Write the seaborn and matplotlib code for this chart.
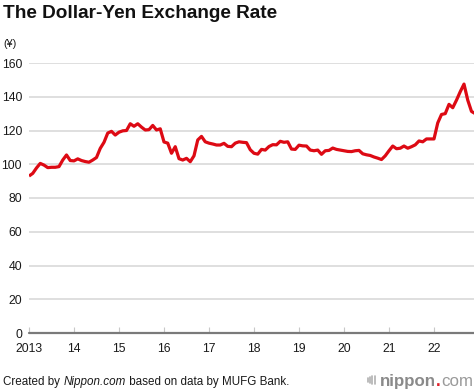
import matplotlib
matplotlib.use("Agg")
import matplotlib.pyplot as plt
import seaborn as sns
import pandas as pd
import numpy as np
from matplotlib.lines import Line2D

# ---- data (monthly, Jan 2013 - Dec 2022), yen per dollar ----
start_year = 2013
values = [
    93.0, 94.6, 97.8, 100.5, 99.5, 98.0, 98.2, 98.2, 98.6, 102.5, 105.5, 102.2,      # 2013
    102.0, 103.2, 102.2, 101.6, 101.2, 102.5, 104.0, 109.4, 113.0, 118.5, 119.5, 117.3,  # 2014
    119.0, 119.8, 120.0, 124.0, 122.5, 124.0, 122.0, 120.3, 120.5, 123.0, 120.3, 121.0,  # 2015
    113.2, 112.5, 106.5, 110.4, 103.3, 102.5, 103.5, 101.5, 105.0, 114.4, 116.5, 113.3,  # 2016
    112.5, 112.0, 111.4, 111.4, 112.4, 110.6, 110.4, 112.5, 113.3, 113.0, 112.8, 108.6,  # 2017
    106.5, 106.0, 108.8, 108.4, 110.5, 111.6, 111.5, 113.6, 113.0, 113.3, 109.0, 108.8,  # 2018
    111.3, 110.9, 110.8, 108.4, 108.0, 108.4, 105.9, 108.0, 108.2, 109.6, 108.8, 108.4,  # 2019
    108.0, 107.6, 107.5, 108.0, 108.2, 106.2, 105.6, 105.2, 104.3, 103.6, 102.8, 105.0,  # 2020
    108.0, 110.8, 109.2, 109.5, 110.8, 109.5, 110.4, 111.5, 113.8, 113.3, 115.0, 115.0,  # 2021
    115.0, 124.5, 129.5, 130.0, 135.5, 133.5, 138.0, 143.0, 147.5, 138.0, 131.3, 130.0,  # 2022
]
year_ticks = list(range(2013, 2023))
year_labels = ["2013", "14", "15", "16", "17", "18", "19", "20", "21", "22"]
y_ticks = [0, 20, 40, 60, 80, 100, 120, 140, 160]

months = np.arange(len(values))
df = pd.DataFrame({"t": start_year + months / 12.0, "rate": values})

sns.set_theme(style="white")
plt.rcParams["font.family"] = ["Liberation Sans", "DejaVu Sans"]

W, H = 474, 390
fig = plt.figure(figsize=(W / 100, H / 100), dpi=100)
ax = fig.add_axes([29 / W, 1 - 333 / H, (W - 29) / W, (333 - 63) / H])

for yv in y_ticks[1:]:
    ax.axhline(yv, color="#dcdcdc", lw=1.3, zorder=1)

sns.lineplot(data=df, x="t", y="rate", ax=ax, color="#dd0a14", lw=2.3,
             zorder=3, solid_joinstyle="round", solid_capstyle="butt")

ax.axhline(0, color="#7a7a7a", lw=1.6, zorder=2, clip_on=False)

ax.set_xlim(2013, 2013 + (W - 29) / 45.0)
ax.set_ylim(0, 160)
ax.set_xticks(year_ticks)
ax.set_xticklabels(year_labels)
ax.set_yticks(y_ticks)
ax.set_yticklabels([str(v) for v in y_ticks])
ax.set_xlabel("")
ax.set_ylabel("")
for s in ax.spines.values():
    s.set_visible(False)
ax.tick_params(axis="x", direction="in", length=4.5, width=0.8, color="#c8c8c8",
               pad=7, labelsize=8.8, labelcolor="#1a1a1a", bottom=True)
ax.tick_params(axis="y", length=0, pad=5, labelsize=8.8, labelcolor="#1a1a1a")
ax.grid(False)

# title and unit
fig.text(3 / W, 1 - 14 / H, "The Dollar-Yen Exchange Rate", fontsize=13.7,
         fontweight="bold", color="#111111", va="center", ha="left")
fig.text(3 / W, 1 - 44 / H, "(¥)", fontsize=7.8, color="#1a1a1a",
         va="center", ha="left")

# footer with mixed styles
fig.canvas.draw()
r = fig.canvas.get_renderer()
x0 = 3
yb = 1 - 385 / H
parts = [("Created by ", "normal"), ("Nippon.com", "italic"),
         (" based on data by MUFG Bank.", "normal")]
for txt, st in parts:
    t = fig.text(x0 / W, yb, txt, fontsize=8.4, style=st, color="#1a1a1a",
                 ha="left", va="baseline")
    bb = t.get_window_extent(renderer=r)
    x0 += bb.width

# logo (right-aligned to the figure edge)
logo = [("nippon", "#8a8a8a", "bold"), (".", "#e0202a", "bold"), ("com", "#9a9a9a", "normal")]
lyb = 1 - 386 / H
widths = []
tmp = []
for txt, col, wt in logo:
    t = fig.text(0, lyb, txt, fontsize=12.2, fontweight=wt, color=col,
                 ha="left", va="baseline")
    widths.append(t.get_window_extent(renderer=r).width)
    tmp.append(t)
lx = 473 - sum(widths)
for t, w in zip(tmp, widths):
    t.set_x(lx / W)
    lx += w
start = 473 - sum(widths)
for i, (dx, hh) in enumerate([(-12.5, 4), (-10.2, 6), (-7.9, 8), (-5.6, 8)]):
    bx = start + dx
    cy = 380
    fig.add_artist(Line2D([bx / W, bx / W], [1 - (cy - hh / 2) / H, 1 - (cy + hh / 2) / H],
                          transform=fig.transFigure, color="#b0b0b0", lw=1.2))

fig.savefig("out.png", dpi=100)
